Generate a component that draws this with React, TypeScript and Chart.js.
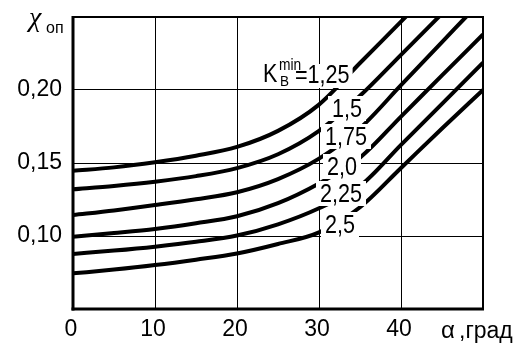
import React, { useEffect, useRef } from 'react';
import { Chart, registerables } from 'chart.js';

Chart.register(...registerables);

// ---- data ----
const alphaTicks = [0, 10, 20, 30, 40];
const chiTickValues = [0.1, 0.15, 0.2];
const chiTickLabels = ['0,10', '0,15', '0,20'];
const kLabels = ['1,25', '1,5', '1,75', '2,0', '2,25', '2,5'];

const alphaK125 = [0, 5, 10, 15, 20, 25, 30, 35, 40, 41];
const chiK125 = [0.1447, 0.147, 0.1505, 0.155, 0.161, 0.172, 0.19, 0.2185, 0.2468, 0.2525];
const alphaK15 = [0, 5, 10, 15, 20, 25, 30, 35, 40, 45];
const chiK15 = [0.132, 0.1343, 0.1372, 0.141, 0.1465, 0.156, 0.172, 0.196, 0.2241, 0.2523];
const alphaK175 = [0, 5, 10, 15, 20, 25, 30, 35, 40, 45, 48];
const chiK175 = [0.1144, 0.1175, 0.1212, 0.1252, 0.13, 0.139, 0.153, 0.1738, 0.2033, 0.2328, 0.2505];
const alphaK2 = [0, 5, 10, 15, 20, 25, 30, 35, 40, 45, 50];
const chiK20 = [0.0995, 0.102, 0.1048, 0.1087, 0.1135, 0.1225, 0.136, 0.1537, 0.1818, 0.21, 0.238];
const chiK225 = [0.0877, 0.09, 0.0927, 0.096, 0.1003, 0.108, 0.119, 0.1342, 0.1624, 0.1905, 0.2187];
const chiK25 = [0.0744, 0.077, 0.0801, 0.0838, 0.088, 0.0945, 0.1025, 0.1197, 0.1466, 0.1736, 0.2];

const SANS = '"Liberation Sans", Arial, sans-serif';
const SERIF = '"Liberation Serif", "Times New Roman", serif';

function pts(xs: number[], ys: number[]) {
  return xs.map((x, i) => ({ x, y: ys[i] }));
}

function drawText(
  ctx: CanvasRenderingContext2D,
  text: string,
  x: number,
  baseline: number,
  font: string,
  sx: number
) {
  ctx.save();
  ctx.font = font;
  ctx.textBaseline = 'alphabetic';
  ctx.textAlign = 'left';
  ctx.fillStyle = '#000';
  ctx.translate(x, baseline);
  ctx.scale(sx, 1);
  ctx.fillText(text, 0, 0);
  ctx.restore();
}

function textWidth(ctx: CanvasRenderingContext2D, text: string, font: string, sx: number) {
  ctx.save();
  ctx.font = font;
  const w = ctx.measureText(text).width * sx;
  ctx.restore();
  return w;
}

const LABEL_FONT = `26px ${SANS}`;
const LABEL_SX = 0.83;
// label placement (left x, baseline) for curves 1,5 .. 2,5
const labelPos: [number, number][] = [
  [332, 117],
  [325, 145],
  [327, 175],
  [320, 202],
  [325, 233],
];

const annotatePlugin = {
  id: 'annotate',
  afterDatasetsDraw(chart: any) {
    const ctx: CanvasRenderingContext2D = chart.ctx;
    ctx.save();
    const eqText = '=' + kLabels[0];
    const eqW = textWidth(ctx, eqText, LABEL_FONT, LABEL_SX);
    ctx.fillStyle = '#fff';
    ctx.fillRect(294, 64, eqW + 4, 24);
    drawText(ctx, 'K', 263, 82, LABEL_FONT, LABEL_SX);
    drawText(ctx, 'min', 279, 70, `16px ${SANS}`, 0.86);
    drawText(ctx, 'В', 280, 86, `15px ${SANS}`, 0.9);
    drawText(ctx, eqText, 295, 83, LABEL_FONT, LABEL_SX);

    for (let i = 1; i < kLabels.length; i++) {
      const [x, b] = labelPos[i - 1];
      const t = kLabels[i];
      const w = textWidth(ctx, t, LABEL_FONT, LABEL_SX);
      ctx.fillStyle = '#fff';
      ctx.fillRect(x - 4, b - 21, w + 8, 25);
      drawText(ctx, t, x, b, LABEL_FONT, LABEL_SX);
    }
    ctx.restore();
  },
  afterDraw(chart: any) {
    const ctx: CanvasRenderingContext2D = chart.ctx;
    const { left, right, top, bottom } = chart.chartArea;
    ctx.save();
    ctx.fillStyle = '#000';
    ctx.fillRect(left, top - 1, right - left, 2);
    ctx.fillRect(right - 1, top - 1, 2, bottom - top + 2);
    ctx.fillRect(left - 1.5, top - 1, 3, bottom - top + 2.5);
    ctx.fillRect(left - 1.5, bottom - 1.5, right - left + 2.5, 3);
    drawText(ctx, 'χ', 29, 26, `italic 28px ${SERIF}`, 1);
    drawText(ctx, 'оп', 46, 33, `16px ${SANS}`, 1);
    drawText(ctx, 'α', 441, 338, `24px ${SANS}`, 1);
    drawText(ctx, ',град', 459, 338, `23px ${SANS}`, 1);
    ctx.restore();
  },
};

export default function App() {
  const ref = useRef<HTMLCanvasElement | null>(null);

  useEffect(() => {
    if (!ref.current) return;
    const lineStyle = {
      borderColor: '#000',
      borderWidth: 4,
      pointRadius: 0,
      fill: false,
      cubicInterpolationMode: 'monotone' as const,
      clip: 0,
    };
    const chart = new Chart(ref.current, {
      type: 'line',
      data: {
        datasets: [
          { label: kLabels[0], data: pts(alphaK125, chiK125), ...lineStyle },
          { label: kLabels[1], data: pts(alphaK15, chiK15), ...lineStyle },
          { label: kLabels[2], data: pts(alphaK175, chiK175), ...lineStyle },
          { label: kLabels[3], data: pts(alphaK2, chiK20), ...lineStyle },
          { label: kLabels[4], data: pts(alphaK2, chiK225), ...lineStyle },
          { label: kLabels[5], data: pts(alphaK2, chiK25), ...lineStyle },
        ],
      },
      options: {
        animation: false,
        responsive: false,
        devicePixelRatio: 1,
        layout: { padding: { top: 17, right: 46, left: 0, bottom: 0 } },
        plugins: { legend: { display: false }, tooltip: { enabled: false } },
        scales: {
          x: {
            type: 'linear',
            min: 0,
            max: 50,
            afterFit: (s: any) => {
              s.height = 48;
              s.paddingLeft = 0;
              s.paddingRight = 0;
            },
            ticks: {
              stepSize: 10,
              autoSkip: false,
              maxRotation: 0,
              padding: 7,
              labelOffset: -2,
              color: '#000',
              font: { size: 23, family: SANS },
              callback: (v: any) => {
                const n = Number(v);
                const i = alphaTicks.findIndex((t) => Math.abs(t - n) < 1e-6);
                return i >= 0 ? String(alphaTicks[i]) : '';
              },
            },
            grid: { color: '#000', lineWidth: 1, drawTicks: false },
            border: { display: false },
          },
          y: {
            type: 'linear',
            min: 0.05,
            max: 0.25,
            afterFit: (s: any) => {
              s.width = 73;
              s.paddingTop = 0;
              s.paddingBottom = 0;
            },
            ticks: {
              stepSize: 0.05,
              padding: 11,
              color: '#000',
              font: { size: 23, family: SANS },
              callback: (v: any) => {
                const n = Number(v);
                const i = chiTickValues.findIndex((t) => Math.abs(t - n) < 1e-6);
                return i >= 0 ? chiTickLabels[i] : '';
              },
            },
            grid: { color: '#000', lineWidth: 1, drawTicks: false },
            border: { display: false },
          },
        },
      },
      plugins: [annotatePlugin],
    });
    return () => chart.destroy();
  }, []);

  return (
    <div style={{ position: 'absolute', left: 0, top: 0, width: 529, height: 357, background: '#fff' }}>
      <canvas ref={ref} width={529} height={357} style={{ display: 'block' }} />
    </div>
  );
}
